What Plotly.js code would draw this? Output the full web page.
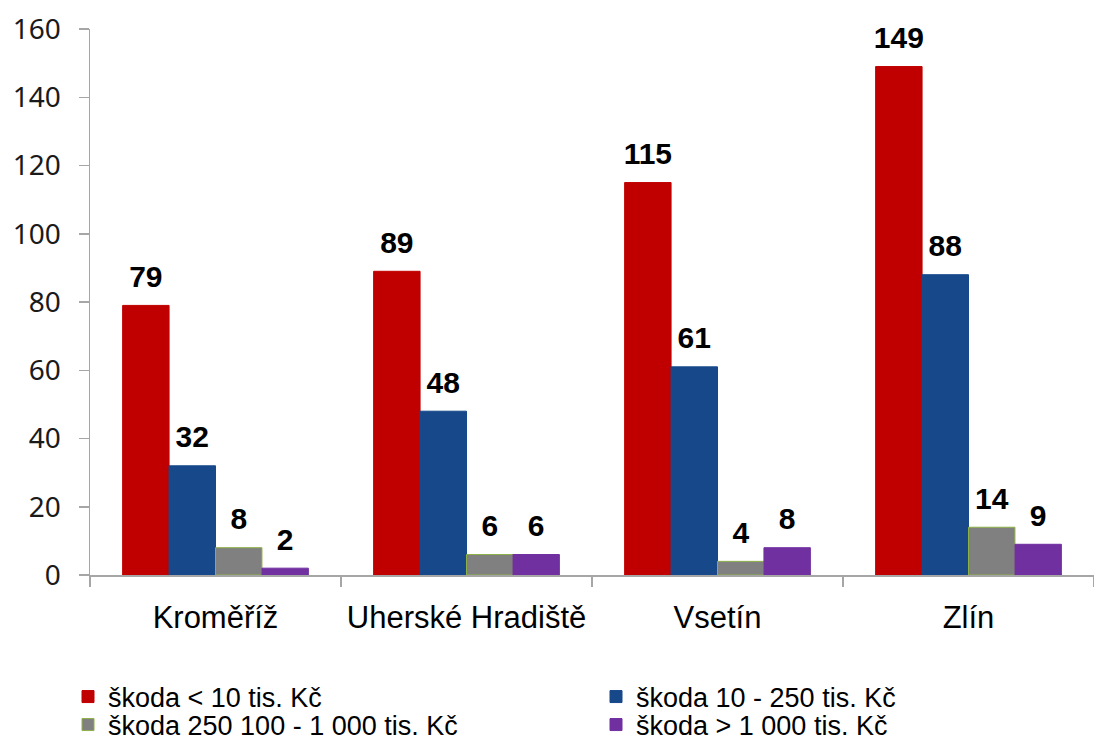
<!DOCTYPE html>
<html><head><meta charset="utf-8">
<script src="https://cdn.plot.ly/plotly-3.0.1.min.js"></script>
<style>html,body{margin:0;padding:0;background:#fff}</style>
</head><body>
<div id="chart" style="width:1094px;height:740px"></div>
<script>
const categories = ["Kroměříž", "Uherské Hradiště", "Vsetín", "Zlín"];
const seriesNames = ["škoda < 10 tis. Kč", "škoda 10 - 250 tis. Kč", "škoda 250 100 - 1 000 tis. Kč", "škoda > 1 000 tis. Kč"];
const small = [79, 89, 115, 149];
const medium = [32, 48, 61, 88];
const large = [8, 6, 4, 14];
const huge = [2, 6, 8, 9];
const yTicks = [0, 20, 40, 60, 80, 100, 120, 140, 160];

const colors = ["#C00000", "#17488A", "#808080", "#7030A0"];
const lines = ["#C00000", "#17488A", "#8DB046", "#7030A0"];
const values = [small, medium, large, huge];
const legendIds = ["legend", "legend2", "legend3", "legend4"];
const GAP = 0.26;

const bars = values.map((v, i) => ({
  type: "bar",
  name: seriesNames[i],
  x: categories,
  y: v,
  offsetgroup: String(i),
  marker: {color: colors[i], line: {color: lines[i], width: 1}},
  legend: legendIds[i]
}));

const labels = values.map((v, i) => ({
  type: "scatter",
  mode: "markers+text",
  x: categories,
  y: v,
  offsetgroup: String(i),
  text: v.map(n => "<b>" + n + "</b>"),
  textposition: "top center",
  marker: {size: 16, opacity: 0, color: colors[i]},
  cliponaxis: false,
  textfont: {family: "Liberation Sans, Arial, sans-serif", size: 30, color: "#000"},
  showlegend: false,
  hoverinfo: "skip"
}));

const legendFont = {family: "Liberation Sans, Arial, sans-serif", size: 27, color: "#000"};
function leg(xpx, ypx) {
  return {orientation: "h", xref: "container", yref: "container", x: xpx / 1094, xanchor: "left",
          y: 1 - ypx / 740, yanchor: "middle", font: legendFont, bgcolor: "rgba(0,0,0,0)"};
}
const layout = {
  width: 1094, height: 740,
  margin: {l: 90, r: 0, t: 29, b: 165, autoexpand: false},
  paper_bgcolor: "#fff", plot_bgcolor: "#fff",
  barmode: "group", bargap: GAP, bargroupgap: 0,
  scattermode: "group", scattergap: GAP,
  showlegend: true,
  legend: leg(68, 697),
  legend2: leg(596, 697),
  legend3: leg(68, 725),
  legend4: leg(596, 725),
  xaxis: {type: "category", showline: true, linecolor: "#A6A6A6", linewidth: 1.5,
          ticks: "outside", tickson: "boundaries", ticklen: 10, tickcolor: "#A6A6A6", tickwidth: 1.5,
          showgrid: false, zeroline: false, ticklabelstandoff: 14,
          tickfont: {family: "Liberation Sans, Arial, sans-serif", size: 31, color: "#000"}},
  yaxis: {range: [0, 160], tickvals: yTicks, ticktext: yTicks.map(String),
          showline: true, linecolor: "#A6A6A6", linewidth: 1.5,
          ticks: "outside", ticklen: 10, tickcolor: "#A6A6A6", tickwidth: 1.5,
          showgrid: false, zeroline: false, ticklabelstandoff: 12,
          tickfont: {family: "Noto Sans, sans-serif", size: 28, color: "#1a1a1a"}}
};

Plotly.newPlot("chart", bars.concat(labels), layout, {displayModeBar: false, staticPlot: true});
</script>
</body></html>
